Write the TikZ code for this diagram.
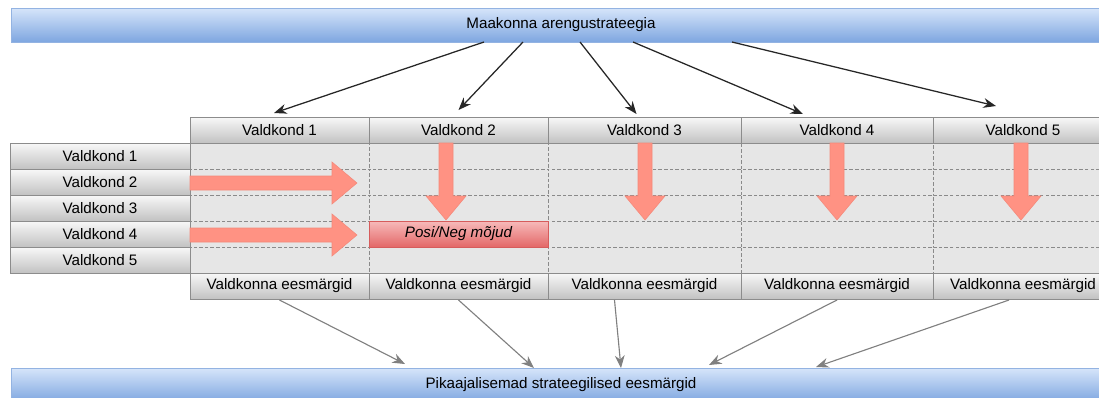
\documentclass[tikz,border=0pt]{standalone}
\usepackage{fontspec}
\setmainfont{Liberation Sans}
\usetikzlibrary{arrows.meta,calc}

\newcommand{\pxu}{0.025cm}
\definecolor{bartop}{HTML}{D6E5FA}
\definecolor{barbottom}{HTML}{7EA6E0}
\definecolor{barline}{HTML}{93B3E2}
\definecolor{boxtop}{HTML}{F8F8F8}
\definecolor{boxbottom}{HTML}{C2C2C2}
\definecolor{boxline}{HTML}{8C8C8C}
\definecolor{cellfill}{HTML}{E6E6E6}
\definecolor{gridline}{HTML}{8A8A8A}
\definecolor{arrowfill}{HTML}{FF9283}
\definecolor{arrowline}{HTML}{F4897A}
\definecolor{postop}{HTML}{F7BABA}
\definecolor{posbottom}{HTML}{E36868}
\definecolor{posline}{HTML}{D65C5C}

\tikzset{
	every node/.style={font=\fontsize{10.8pt}{13pt}\selectfont, inner sep=0pt, outer sep=0pt, anchor=north west},
	bluebar/.style={draw=barline, top color=bartop, bottom color=barbottom, minimum width=1100*\pxu, minimum height=34*\pxu},
	headbox/.style={draw=boxline, top color=boxtop, bottom color=boxbottom, minimum height=26*\pxu},
	cellbox/.style={draw=gridline, dash pattern=on 2.5pt off 1.5pt, fill=cellfill, minimum height=26*\pxu},
	posbox/.style={draw=posline, top color=postop, bottom color=posbottom, minimum height=26*\pxu},
	blockarrow/.style={fill=arrowfill, draw=arrowline, line width=0.4pt},
	toparrow/.style={draw=black!85, line width=0.9pt, -{Stealth[length=9pt, width=7pt]}},
	goalarrow/.style={draw=black!50, line width=0.8pt, -{Stealth[length=9pt, width=7pt]}}
}

\begin{document}
\begin{tikzpicture}[x=0.025cm, y=-0.025cm]
	\useasboundingbox (0,0) rectangle (1099,397);

	\node[bluebar] (top) at (11,8) {Maakonna arengustrateegia};
	\node[bluebar] (bottom) at (11,368) {Pikaajalisemad strateegilised eesmärgid};

	\foreach \i/\x/\w in {1/190/179, 2/369/179, 3/548/193, 4/741/192, 5/933/180}{
		\foreach \j in {1,...,5}
			\node[cellbox, minimum width=\w*\pxu] (c\i\j) at (\x,{143+26*(\j-1)}) {};
		\node[headbox, minimum width=\w*\pxu] (h\i) at (\x,117) {Valdkond \i};
		\node[headbox, minimum width=\w*\pxu] (g\i) at (\x,273) {Valdkonna eesmärgid};
	}
	\foreach \j in {1,...,5}
		\node[headbox, minimum width=180*\pxu] (r\j) at (10,{143+26*(\j-1)}) {Valdkond \j};

	\node[posbox, minimum width=179*\pxu] (pn) at (c24.north west) {\itshape Posi/Neg mõjud};

	\foreach \y in {183,235}
		\filldraw[blockarrow] (190,{\y-7}) -- (332,{\y-7}) -- (332,{\y-21}) -- (357,\y) -- (332,{\y+21}) -- (332,{\y+7}) -- (190,{\y+7}) -- cycle;
	\foreach \x in {446,645,837,1021}
		\filldraw[blockarrow] ({\x-7},143) -- ({\x-7},196) -- ({\x-20},196) -- (\x,220) -- ({\x+20},196) -- ({\x+7},196) -- ({\x+7},143) -- cycle;

	\draw[toparrow] ($(top.south west)+(473,0)$) -- ([xshift=-5.5*\pxu, yshift=4*\pxu]h1.north);
	\draw[toparrow] ($(top.south west)+(512,0)$) -- ([yshift=7*\pxu]h2.north);
	\draw[toparrow] ($(top.south west)+(569,0)$) -- ([xshift=-8*\pxu, yshift=3*\pxu]h3.north);
	\draw[toparrow] ($(top.south west)+(622,0)$) -- ([xshift=-34*\pxu, yshift=3*\pxu]h4.north);
	\draw[toparrow] ($(top.south west)+(721,0)$) -- ([xshift=-27*\pxu, yshift=11*\pxu]h5.north);

	\draw[goalarrow] ([yshift=-1*\pxu]g1.south) -- ($(bottom.north west)+(394,-4)$);
	\draw[goalarrow] ([yshift=-1*\pxu]g2.south) -- ($(bottom.north west)+(523,0)$);
	\draw[goalarrow] ([xshift=-30*\pxu, yshift=-1*\pxu]g3.south) -- ($(bottom.north west)+(610,0)$);
	\draw[goalarrow] ([yshift=-1*\pxu]g4.south) -- ($(bottom.north west)+(698,-3)$);
	\draw[goalarrow] ([xshift=-14*\pxu, yshift=-1*\pxu]g5.south) -- ($(bottom.north west)+(805,-1)$);
\end{tikzpicture}
\end{document}
